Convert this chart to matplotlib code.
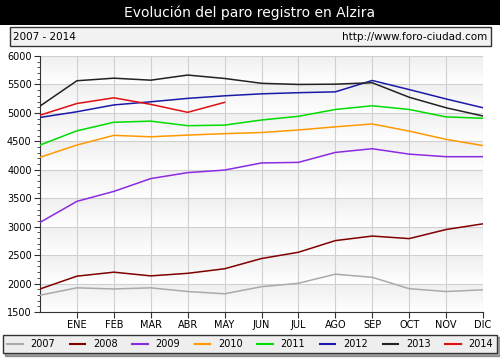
import matplotlib
matplotlib.use("Agg")
import matplotlib.pyplot as plt
import numpy as np
from matplotlib.patches import Rectangle
from matplotlib.lines import Line2D

months = ["", "ENE", "FEB", "MAR", "ABR", "MAY", "JUN", "JUL", "AGO", "SEP", "OCT", "NOV", "DIC"]
years = ["2007", "2008", "2009", "2010", "2011", "2012", "2013", "2014"]

v2007 = [1795, 1925, 1905, 1925, 1860, 1820, 1945, 2005, 2165, 2110, 1910, 1860, 1890]
v2008 = [1905, 2130, 2200, 2135, 2180, 2260, 2440, 2550, 2755, 2835, 2790, 2950, 3050]
v2009 = [3075, 3445, 3620, 3845, 3950, 3995, 4120, 4130, 4305, 4370, 4275, 4230, 4230]
v2010 = [4220, 4435, 4605, 4580, 4610, 4635, 4655, 4700, 4755, 4805, 4680, 4535, 4425]
v2011 = [4435, 4685, 4835, 4855, 4775, 4785, 4875, 4940, 5060, 5125, 5060, 4930, 4905]
v2012 = [4920, 5020, 5140, 5195, 5255, 5300, 5335, 5355, 5370, 5570, 5410, 5245, 5090]
v2013 = [5120, 5565, 5610, 5575, 5665, 5605, 5520, 5500, 5505, 5530, 5275, 5090, 4945]
v2014 = [4960, 5165, 5265, 5150, 5010, 5185]

series = [v2007, v2008, v2009, v2010, v2011, v2012, v2013, v2014]
colors = ["#aaaaaa", "#800000", "#8a2be2", "#ff9900", "#00dd00", "#1a1aa8", "#222222", "#e01010"]

fig = plt.figure(figsize=(5, 3.6), dpi=100)
fig.patch.set_facecolor("white")

# title bar
fig.patches.append(Rectangle((0, 1 - 25/360), 1, 25/360, transform=fig.transFigure,
                             facecolor="black", edgecolor="none", zorder=0))
fig.text(0.5, 1 - 13/360, "Evolución del paro registro en Alzira", color="white",
         ha="center", va="center", fontsize=10)
# subtitle box
fig.patches.append(Rectangle((10/500, 1 - 46/360), 481/500, 19/360, transform=fig.transFigure,
                             facecolor="#f2f2f2", edgecolor="#333333", linewidth=1, zorder=0))
fig.text(13/500, 1 - 36.5/360, "2007 - 2014", ha="left", va="center", fontsize=7.5)
fig.text(487/500, 1 - 36.5/360, "http://www.foro-ciudad.com", ha="right", va="center", fontsize=7.5)

ax = fig.add_axes([40/500, 48/360, 443/500, 256/360])
ax.set_xlim(0, 12)
ax.set_ylim(1500, 6000)

# background bands with slight gradient
grad = np.linspace(0, 1, 50).reshape(-1, 1)
cmap = matplotlib.colors.LinearSegmentedColormap.from_list("g", ["#ffffff", "#efefef"])
for lo in range(1500, 6000, 500):
    ax.imshow(grad, extent=(0, 12, lo, lo + 500), aspect="auto", cmap=cmap,
              origin="lower", zorder=0)

x = np.arange(len(months))
for name, vals, c in zip(years, series, colors):
    ax.plot(x[:len(vals)], vals, color=c, linewidth=1.1, label=name, zorder=3)

ax.set_xticks(x[1:])
ax.set_xticklabels(months[1:], fontsize=7)
ax.set_yticks(range(1500, 6001, 500))
ax.set_yticklabels([str(v) for v in range(1500, 6001, 500)], fontsize=7)
ax.set_yticks(range(1500, 6001, 100), minor=True)
ax.grid(True, color="#d0d0d0", linewidth=0.8, zorder=1)
for s in ["top", "right"]:
    ax.spines[s].set_visible(False)
ax.spines["left"].set_color("#333333")
ax.spines["bottom"].set_color("#333333")
ax.tick_params(axis="both", length=4, color="#333333", pad=2)
ax.tick_params(axis="y", which="minor", length=2.5, color="#333333")

handles = [Line2D([], [], color=c, linewidth=1.5) for c in colors]
leg = fig.legend(handles, years, loc="center", bbox_to_anchor=(0.5, 1 - 344/360), ncol=8,
                 fontsize=7, frameon=True, fancybox=False, edgecolor="#333333",
                 facecolor="#eeeeee", handlelength=1.6, columnspacing=1.5, handletextpad=0.8,
                 borderpad=0.45, borderaxespad=0, shadow=True)
leg.get_frame().set_linewidth(1)

fig.savefig("out.png", dpi=100)
